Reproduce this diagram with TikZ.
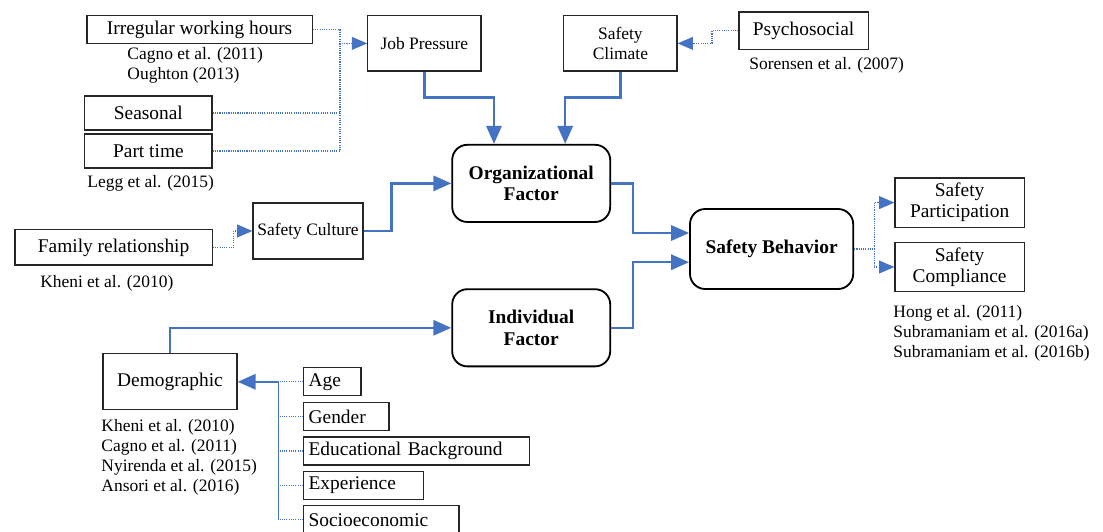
\documentclass[tikz,border=0pt]{standalone}
\usepackage{fontspec}
\setmainfont{Liberation Serif}
\usetikzlibrary{arrows.meta}

\begin{document}
\begin{tikzpicture}[box/.style={draw=sbInk, line width=0.9pt, inner sep=0pt, align=center, font=\fontsize{13.8}{15}\selectfont}, smallbox/.style={box, font=\fontsize{12.4}{14.2}\selectfont}, keybox/.style={box, draw=black, rounded corners=0.38cm, line width=1.3pt, font=\fontsize{13.8}{15.6}\selectfont\bfseries, minimum width=3.95cm, minimum height=1.93cm}, itembox/.style={box, anchor=west, align=left, inner xsep=0.12cm, minimum height=0.70cm}, cite/.style={anchor=west, inner sep=0pt, align=left, font=\fontsize{12.4}{14.2}\selectfont}, flow/.style={-{Triangle[length=0.45cm, width=0.38cm]}, line width=1.8pt, sbBlue}, dotlink/.style={line width=0.8pt, sbBlue, dash pattern=on 0.8pt off 0.8pt}, dotflow/.style={dotlink, -{Triangle[length=0.38cm, width=0.32cm]}}, rail/.style={line width=0.6pt, sbBlue}]
\definecolor{sbInk}{rgb}{0.15,0.15,0.15}
\definecolor{sbBlue}{rgb}{0.27,0.45,0.77}
\useasboundingbox (0,0) rectangle (27.575,13.275);
\clip (0,0) rectangle (27.575,13.275);
% organisational side
\node[box, minimum width=5.63cm, minimum height=0.70cm] (irreg) at (4.99,12.53) {Irregular working hours};
\node[cite] (irregref) at (3.18,11.65) {Cagno et al. (2011)\\Oughton (2013)};
\node[box, minimum width=3.18cm, minimum height=0.85cm] (seasonal) at (3.71,10.45) {Seasonal};
\node[box, minimum width=3.18cm, minimum height=0.85cm] (parttime) at (3.71,9.50) {Part time};
\node[cite] (legg) at (2.18,8.70) {Legg et al. (2015)};
\node[smallbox, minimum width=2.83cm, minimum height=1.38cm] (jobpress) at (10.61,12.19) {Job Pressure};
\node[smallbox, minimum width=2.83cm, minimum height=1.38cm] (climate) at (15.51,12.19) {Safety\\Climate};
\node[box, minimum width=3.23cm, minimum height=0.93cm] (psycho) at (20.09,12.51) {Psychosocial};
\node[cite] (sorensen) at (18.73,11.65) {Sorensen et al. (2007)};
\node[smallbox, minimum width=2.75cm, minimum height=1.40cm] (culture) at (7.70,7.50) {Safety Culture};
\node[box, minimum width=4.93cm, minimum height=0.88cm] (family) at (2.84,7.09) {Family relationship};
\node[cite] (kheni) at (1.00,6.20) {Kheni et al. (2010)};
% main factors
\node[keybox] (org) at (13.28,8.69) {Organizational\\Factor};
\node[keybox] (indiv) at (13.28,5.08) {Individual\\Factor};
\node[keybox, minimum width=4.08cm, minimum height=2.00cm] (behav) at (19.29,7.05) {Safety Behavior};
\node[box, minimum width=3.23cm, minimum height=1.23cm] (particip) at (23.99,8.21) {Safety\\Participation};
\node[box, minimum width=3.23cm, minimum height=1.23cm] (comply) at (23.99,6.60) {Safety\\Compliance};
\node[cite] (behavref) at (22.33,4.95) {Hong et al. (2011)\\Subramaniam et al. (2016a)\\Subramaniam et al. (2016b)};
% individual side
\node[box, minimum width=3.35cm, minimum height=1.40cm] (demog) at (4.25,3.73) {Demographic};
\node[cite] (demogref) at (2.53,1.85) {Kheni et al. (2010)\\Cagno et al. (2011)\\Nyirenda et al. (2015)\\Ansori et al. (2016)};
\node[itembox, text width=1.19cm] (age) at (7.58,3.73) {Age};
\node[itembox, text width=1.89cm] (gender) at (7.58,2.86) {Gender};
\node[itembox, text width=5.41cm] (educ) at (7.58,2.00) {Educational Background};
\node[itembox, text width=2.76cm] (exper) at (7.58,1.14) {Experience};
\node[itembox, text width=3.64cm] (socio) at (7.58,0.28) {Socioeconomic};
% connectors
\coordinate (jpjoin) at (8.50,12.19);
\draw[dotflow] (irreg.east) -| (jpjoin) -- (jobpress.west);
\draw[dotlink] (seasonal.east) -| (jpjoin);
\draw[dotlink] (parttime.east) -| (jpjoin);
\coordinate (climjoin) at (17.80,12.19);
\draw[dotflow] (psycho.west) -| (climjoin) -- (climate.east);
\draw[flow] (jobpress.south) -- ++(0,-0.65) -| ([xshift=-0.93cm]org.north);
\draw[flow] (climate.south) -- ++(0,-0.65) -| ([xshift=0.85cm]org.north);
\draw[dotflow] (family.east) -- ++(0.52,0) |- (culture.west);
\draw[flow] (culture.east) -- ++(0.70,0) |- (org.west);
\draw[flow] (org.east) -- ++(0.55,0) |- ([yshift=0.40cm]behav.west);
\draw[flow] (indiv.east) -- ++(0.55,0) |- ([yshift=-0.33cm]behav.west);
\draw[flow] (demog.north) |- (indiv.west);
\coordinate (sbjoin) at ([xshift=0.50cm]behav.east);
\draw[dotflow] (behav.east) -- (sbjoin) |- (particip.west);
\draw[dotflow] (sbjoin) |- (comply.west);
\coordinate (demjoin) at (6.95,3.73);
\draw[flow] (demjoin) -- (demog.east);
\draw[rail] (demjoin) -- (demjoin |- socio.west);
\draw[dotlink] (age.west) -- (demjoin |- age.west);
\draw[dotlink] (gender.west) -- (demjoin |- gender.west);
\draw[dotlink] (educ.west) -- (demjoin |- educ.west);
\draw[dotlink] (exper.west) -- (demjoin |- exper.west);
\draw[dotlink] (socio.west) -- (demjoin |- socio.west);
\end{tikzpicture}
\end{document}
